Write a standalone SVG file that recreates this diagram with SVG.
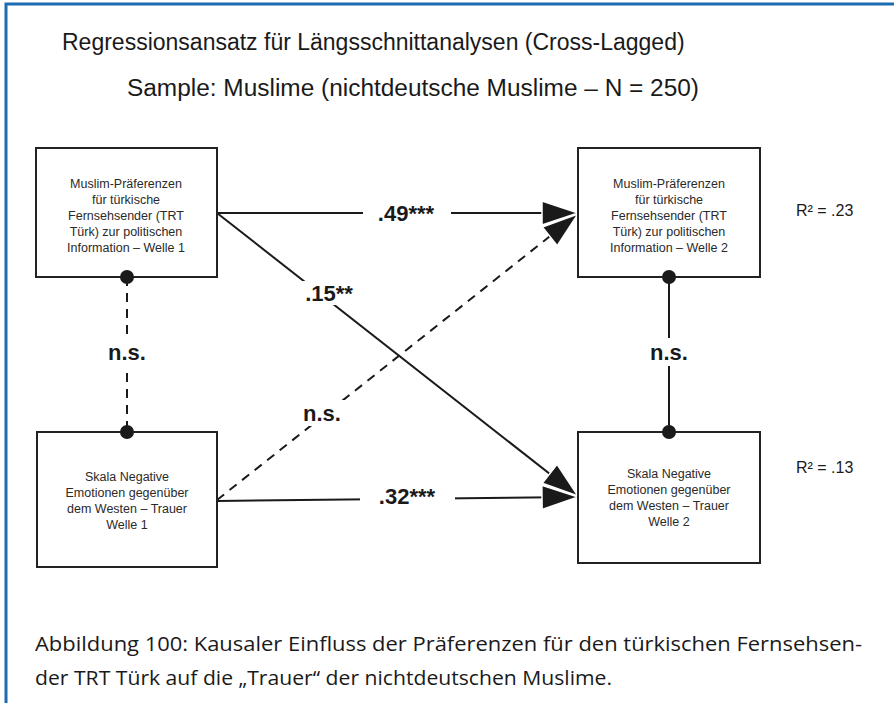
<svg xmlns="http://www.w3.org/2000/svg" width="894" height="703" viewBox="0 0 894 703">
<style>
.frame{stroke:#1b6cb3;stroke-width:3;fill:none}
.box{fill:#fff;stroke:#222;stroke-width:2}
.bt{font-family:"Liberation Sans",Arial,sans-serif;font-size:12.5px;fill:#2a2a2a;text-anchor:middle}
.ttl{font-family:"Liberation Sans",Arial,sans-serif;font-size:23px;fill:#1a1a1a}
.lbl{font-family:"Liberation Sans",Arial,sans-serif;font-size:22px;font-weight:bold;fill:#1a1a1a;text-anchor:middle}
.r2{font-family:"Liberation Sans",Arial,sans-serif;font-size:16px;fill:#1a1a1a}
.cap{font-family:"Open Sans","Liberation Sans",sans-serif;font-size:20px;fill:#1a1a1a}
.ln{stroke:#1a1a1a;stroke-width:2;fill:none}
.dash{stroke-dasharray:9,7}
.dot{fill:#1a1a1a}
.bg{fill:#fff}
</style>
<defs>
<marker id="ah" markerUnits="userSpaceOnUse" markerWidth="40" markerHeight="28" refX="37" refY="13" orient="auto">
<path d="M1,1 L37,13 L1,25 Z" fill="#1a1a1a" stroke="#fff" stroke-width="1.5"/>
</marker>
</defs>
<rect width="894" height="703" fill="#fff"/>
<path class="frame" d="M6,703 V4 H894"/>
<text class="ttl" x="62" y="50">Regressionsansatz für Längsschnittanalysen (Cross-Lagged)</text>
<text class="ttl" x="127" y="96" textLength="572" lengthAdjust="spacingAndGlyphs">Sample: Muslime (nichtdeutsche Muslime – N = 250)</text>

<g id="connectors">
<line class="ln dash" x1="127" y1="277" x2="127" y2="432"/>
<line class="ln" x1="669" y1="277" x2="669" y2="432"/>
<line class="ln" x1="217" y1="213" x2="578" y2="213" marker-end="url(#ah)"/>
<line class="ln dash" x1="217" y1="500" x2="578" y2="214" marker-end="url(#ah)"/>
<line class="ln" x1="217" y1="501" x2="578" y2="497" marker-end="url(#ah)"/>
<line class="ln" x1="217" y1="213" x2="578" y2="496" marker-end="url(#ah)"/>
<rect class="bg" x="363" y="200" width="88" height="26"/>
<text class="lbl" x="406" y="221">.49***</text>
<rect class="bg" x="302" y="281" width="54" height="24"/>
<text class="lbl" x="329" y="301">.15**</text>
<rect class="bg" x="300" y="400" width="46" height="26"/>
<text class="lbl" x="322" y="421">n.s.</text>
<rect class="bg" x="360" y="488" width="95" height="24"/>
<text class="lbl" x="407" y="504">.32***</text>
<rect class="bg" x="102" y="338" width="50" height="28"/>
<text class="lbl" x="127" y="360">n.s.</text>
<rect class="bg" x="644" y="338" width="50" height="28"/>
<text class="lbl" x="669" y="360">n.s.</text>
</g>

<g id="nodeA">
<rect class="box" x="36" y="148" width="181" height="129"/>
<text class="bt" x="126" y="188">Muslim-Präferenzen</text>
<text class="bt" x="126" y="204">für türkische</text>
<text class="bt" x="126" y="220">Fernsehsender (TRT</text>
<text class="bt" x="126" y="236">Türk) zur politischen</text>
<text class="bt" x="126" y="252">Information – Welle 1</text>
<circle class="dot" cx="127" cy="277" r="7"/>
</g>
<g id="nodeB">
<rect class="box" x="578" y="148" width="182" height="129"/>
<text class="bt" x="669" y="188">Muslim-Präferenzen</text>
<text class="bt" x="669" y="204">für türkische</text>
<text class="bt" x="669" y="220">Fernsehsender (TRT</text>
<text class="bt" x="669" y="236">Türk) zur politischen</text>
<text class="bt" x="669" y="252">Information – Welle 2</text>
<circle class="dot" cx="669" cy="277" r="7"/>
</g>
<g id="nodeC">
<rect class="box" x="37" y="432" width="180" height="135"/>
<text class="bt" x="127" y="481">Skala Negative</text>
<text class="bt" x="127" y="497">Emotionen gegenüber</text>
<text class="bt" x="127" y="513">dem Westen – Trauer</text>
<text class="bt" x="127" y="529">Welle 1</text>
<circle class="dot" cx="127" cy="432" r="7"/>
</g>
<g id="nodeD">
<rect class="box" x="578" y="432" width="182" height="131"/>
<text class="bt" x="669" y="478">Skala Negative</text>
<text class="bt" x="669" y="494">Emotionen gegenüber</text>
<text class="bt" x="669" y="510">dem Westen – Trauer</text>
<text class="bt" x="669" y="526">Welle 2</text>
<circle class="dot" cx="669" cy="432" r="7"/>
</g>

<text class="r2" x="796" y="216">R² = .23</text>
<text class="r2" x="796" y="473">R² = .13</text>

<text class="cap" x="35" y="651" textLength="827" lengthAdjust="spacingAndGlyphs">Abbildung 100: Kausaler Einfluss der Präferenzen für den türkischen Fernsehsen-</text>
<text class="cap" x="35" y="685" textLength="577" lengthAdjust="spacingAndGlyphs">der TRT Türk auf die „Trauer“ der nichtdeutschen Muslime.</text>
</svg>
